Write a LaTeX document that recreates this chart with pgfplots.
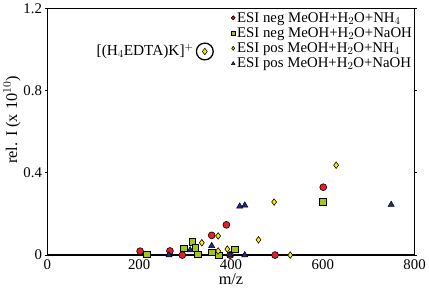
\documentclass[border=0pt]{standalone}
\usepackage{fontspec}
\setmainfont{Liberation Serif}
\usepackage{pgfplots}
\pgfplotsset{compat=1.18}
\definecolor{cred}{RGB}{230,30,40}
\definecolor{cgreen}{RGB}{160,200,20}
\definecolor{cyel}{RGB}{255,238,0}
\definecolor{cblue}{RGB}{35,40,140}
\begin{document}
\begin{tikzpicture}
\begin{axis}[
  scale only axis, width=372pt, height=250pt,
  xmin=0, xmax=800, ymin=0, ymax=1.2,
  xtick={0,200,400,600,800}, ytick={0,0.4,0.8,1.2},
  yticklabels={0,0.4,0.8,1.2},
  xticklabels={0,200,400,600,800},
  /pgf/number format/assume math mode=true,
  tick align=outside, major tick length=2pt,
  xtick style={draw=none},
  axis line style={line width=1.2pt},
  tick style={line width=0.8pt, black},
  xlabel={m/z}, ylabel={rel. I (x 10$^{10}$)},
  xlabel style={yshift=3pt},
  ylabel style={yshift=-4pt, xshift=12pt},
  xticklabel style={yshift=1pt},
  tick label style={font=\fontsize{15}{17}\selectfont},
  label style={font=\fontsize{16.5}{19}\selectfont},
  legend style={draw=none, fill=none, at={(1,0.995)}, anchor=north east,
    font=\fontsize{15}{17}\selectfont, row sep=0pt, inner sep=0.5pt},
  legend cell align=left,
  legend image post style={mark size=2pt},
  clip=false,
]
\addplot[only marks, mark=*, mark size=3.5pt, mark options={fill=cred, draw=black, line width=0.6pt}] coordinates {
(202,0.019) (267,0.02) (294,0) (358,0.096) (390,0.147) (398,0) (496,0) (601,0.33)};
\addlegendentry{ESI neg MeOH+H$_2$O+NH$_4$}
\addplot[only marks, mark=square*, mark size=3.3pt, mark options={fill=cgreen, draw=black, line width=0.6pt}] coordinates {
(217,0.003) (297,0.032) (316,0.064) (322,0.035) (328,0.004) (358,0.013) (373,0) (408,0.028) (600,0.258)};
\addlegendentry{ESI neg MeOH+H$_2$O+NaOH}
\addplot[only marks, mark=diamond*, mark size=3.3pt, mark options={fill=cyel, draw=black, line width=0.6pt}] coordinates {
(336.5,0.06) (372,0.093) (372,0.02) (392,0.029) (460,0.074) (494,0.258) (529,0) (629,0.437)};
\addlegendentry{ESI pos MeOH+H$_2$O+NH$_4$}
\addplot[only marks, mark=triangle*, mark size=3.6pt, mark options={fill=cblue, draw=black, line width=0.5pt}] coordinates {
(265,0) (311,0.024) (358,0.045) (398,0) (419,0.237) (430,0.242) (430,0) (749,0.245)};
\addlegendentry{ESI pos MeOH+H$_2$O+NaOH}
\addplot[only marks, forget plot, mark=diamond*, mark size=3.3pt, mark options={fill=cyel, draw=black, line width=0.6pt}] coordinates {(343,0.99)};
\addplot[only marks, forget plot, mark=o, mark size=8.5pt, mark options={draw=black, line width=1.3pt}] coordinates {(343,0.99)};
\node[anchor=east, font=\fontsize{15.5}{18}\selectfont] at (axis cs:326,0.99) {[(H$_4$EDTA)K]$^+$};
\end{axis}
\end{tikzpicture}
\end{document}
